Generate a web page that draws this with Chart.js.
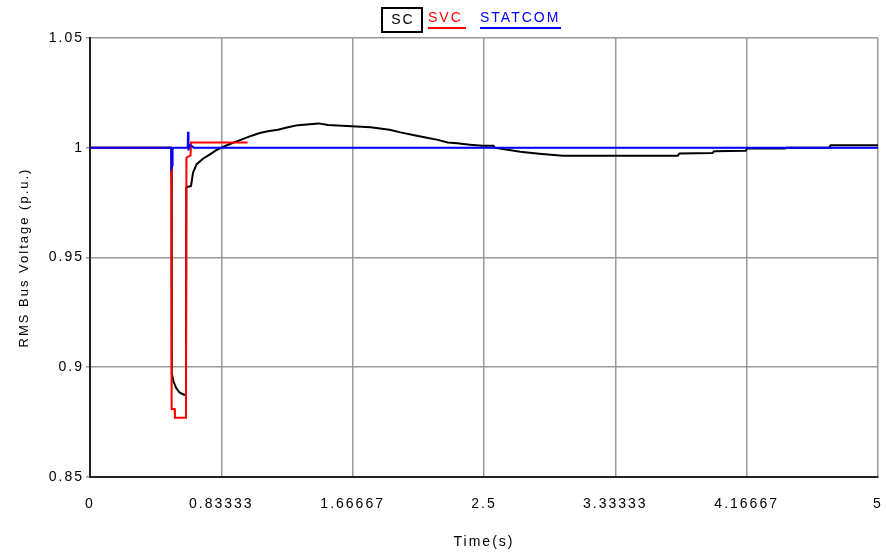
<!DOCTYPE html>
<html>
<head>
<meta charset="utf-8">
<script src="https://cdn.jsdelivr.net/npm/chart.js@4.4.0/dist/chart.umd.min.js"></script>
<style>
  body { margin: 0; background: #fff; }
  #wrap { position: relative; width: 886px; height: 557px; }
  .leg { position: absolute; font: 14px "Liberation Sans", Arial, sans-serif; letter-spacing: 2px; line-height: 16px; white-space: nowrap; }
  #lgSC { left: 381px; top: 7px; width: 42px; height: 26px; box-sizing: border-box; border: 2px solid #000; text-align: center; line-height: 21px; padding-left: 2px; }
  #lgSVC { left: 428px; top: 9px; color: #ff0000; border-bottom: 2px solid #ff0000; padding: 0 3px 2px 0; }
  #lgSTAT { left: 480px; top: 9px; color: #0000ff; border-bottom: 2px solid #0000ff; padding: 0 1px 2px 0; }
</style>
</head>
<body>
<div id="wrap">
  <canvas id="voltChart" width="886" height="557"></canvas>
  <div class="leg" id="lgSC">SC</div>
  <div class="leg" id="lgSVC">SVC</div>
  <div class="leg" id="lgSTAT">STATCOM</div>
</div>
<script>
// tick labels
const xTickValues = [0, 0.833333, 1.666667, 2.5, 3.333333, 4.166667, 5];
const xTickLabels = ['0', '0.83333', '1.66667', '2.5', '3.33333', '4.16667', '5'];
const yTickValues = [0.85, 0.9, 0.95, 1, 1.05];
const yTickLabels = ['0.85', '0.9', '0.95', '1', '1.05'];

// SC - synchronous condenser
const scTime = [0, 0.517, 0.519, 0.53, 0.547, 0.568, 0.596, 0.609, 0.611, 0.641,
  0.654, 0.677, 0.717, 0.761, 0.804, 0.836, 0.888, 0.952, 1.026, 1.077,
  1.128, 1.192, 1.256, 1.32, 1.45, 1.51, 1.78, 1.9, 1.97, 2.05,
  2.13, 2.2, 2.27, 2.33, 2.41, 2.49, 2.56, 2.57, 2.64, 2.73,
  2.85, 3.0, 3.73, 3.74, 3.95, 3.96, 4.16, 4.17, 4.41, 4.42,
  4.69, 4.7, 5];
const scVolt = [1.0, 1.0, 0.897, 0.8935, 0.8905, 0.8885, 0.8875, 0.8875, 0.982, 0.9826,
  0.9887, 0.9925, 0.995, 0.997, 0.999, 1.0001, 1.0017, 1.0035, 1.0055, 1.0067,
  1.0075, 1.0082, 1.0093, 1.0103, 1.0111, 1.0104, 1.0093, 1.0082, 1.007, 1.0058,
  1.0047, 1.0037, 1.0024, 1.002, 1.0014, 1.0009, 1.0009, 1.0, 0.9992, 0.9982,
  0.9973, 0.9964, 0.9964, 0.9974, 0.9976, 0.9984, 0.9986, 0.9997, 0.9997, 1.0,
  1.0, 1.0011, 1.0011];

// SVC
const svcTime = [0, 0.516, 0.518, 0.537, 0.539, 0.609, 0.612, 0.638, 0.641, 1.0];
const svcVolt = [1.0, 1.0, 0.881, 0.881, 0.877, 0.877, 0.9955, 0.9965, 1.0024, 1.0024];

// STATCOM
const statTime = [0, 0.515, 0.517, 0.522, 0.524, 0.53, 0.62, 0.622, 0.625, 0.63, 0.645, 0.66, 5];
const statVolt = [1.0, 1.0, 0.991, 0.992, 0.9995, 1.0, 1.0, 1.0073, 0.9988, 1.0012, 1.0008, 1.0, 1.0];

const toPoints = (xs, ys) => xs.map((x, i) => ({ x: x, y: ys[i] }));

const fontMain = { family: '"Liberation Sans", Arial, sans-serif', size: 14 };

// wide spaced text like the original plot
const spacing = {
    id: 'spacing',
    beforeDraw(chart) { chart.ctx.letterSpacing = '2px'; }
};

new Chart(document.getElementById('voltChart'), {
    type: 'line',
    data: {
        datasets: [
            { label: 'SC', data: toPoints(scTime, scVolt), borderColor: '#000000', order: 3 },
            { label: 'SVC', data: toPoints(svcTime, svcVolt), borderColor: '#ff0000', order: 2 },
            { label: 'STATCOM', data: toPoints(statTime, statVolt), borderColor: '#0000ff', order: 1 }
        ]
    },
    options: {
        responsive: false,
        animation: false,
        parsing: false,
        elements: {
            line: { borderWidth: 2, tension: 0 },
            point: { radius: 0 }
        },
        layout: { padding: { left: 0, top: 38, right: 8, bottom: 0 } },
        plugins: { legend: { display: false }, tooltip: { enabled: false } },
        scales: {
            x: {
                type: 'linear',
                min: 0,
                max: 5,
                afterBuildTicks: s => { s.ticks = xTickValues.map(v => ({ value: v })); },
                afterFit: s => { s.height = 80; s.paddingLeft = 0; s.paddingRight = 0; },
                ticks: {
                    autoSkip: false,
                    maxRotation: 0,
                    padding: 19,
                    color: '#000',
                    font: fontMain,
                    callback: (v, i) => xTickLabels[i]
                },
                grid: { color: '#9a9a9a', lineWidth: 1.5, drawTicks: false },
                border: { color: '#222', width: 2 },
                title: { display: true, text: 'Time(s)', color: '#000', font: fontMain, padding: { top: 0, bottom: 6 } }
            },
            y: {
                min: 0.85,
                max: 1.05,
                afterBuildTicks: s => { s.ticks = yTickValues.map(v => ({ value: v })); },
                afterFit: s => { s.width = 90; s.paddingTop = 0; s.paddingBottom = 0; },
                ticks: {
                    padding: 2,
                    color: '#000',
                    font: fontMain,
                    callback: (v, i) => yTickLabels[i]
                },
                grid: { color: '#9a9a9a', lineWidth: 1.5, tickLength: 4 },
                border: { color: '#222', width: 2 },
                title: {
                    display: true, text: 'RMS Bus Voltage (p.u.)', color: '#000',
                    font: { family: '"Liberation Sans", Arial, sans-serif', size: 13 },
                    padding: { top: 17, bottom: 0 }
                }
            }
        }
    },
    plugins: [spacing]
});
</script>
</body>
</html>
